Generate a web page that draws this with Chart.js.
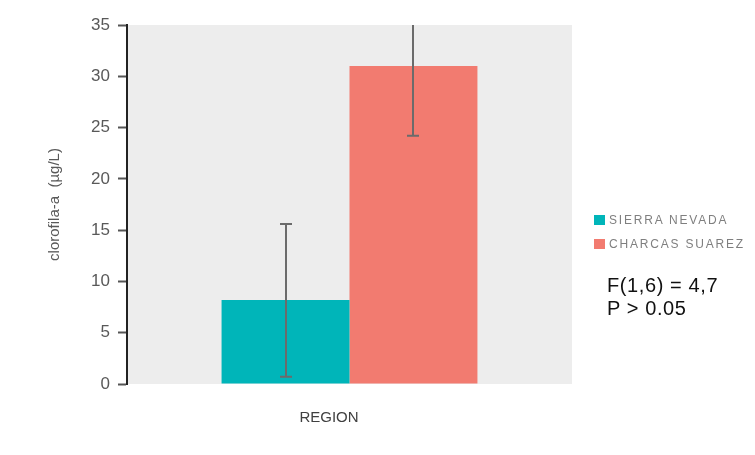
<!DOCTYPE html>
<html>
<head>
<meta charset="utf-8">
<script src="https://cdn.jsdelivr.net/npm/chart.js@4"></script>
<style>
  body { margin: 0; background: #fff; }
  #wrap { position: relative; width: 755px; height: 455px; }
  #legend { position: absolute; left: 594px; top: 211px; font-family: "Liberation Sans", Arial, sans-serif; font-size: 12px; color: #7f7f7f; letter-spacing: 1.8px; }
  #legend div { height: 24px; line-height: 18px; white-space: nowrap; }
  #legend span.box { display: inline-block; width: 11px; height: 10px; margin-right: 4px; vertical-align: -1px; }
  #stats { position: absolute; left: 607px; top: 274px; font-family: "Liberation Sans", Arial, sans-serif; font-size: 20px; letter-spacing: 0.6px; line-height: 23px; color: #111; }
</style>
</head>
<body>
<div id="wrap">
  <canvas id="chart" width="755" height="455"></canvas>
  <div id="legend"></div>
  <div id="stats">F(1,6) = 4,7<br>P &gt; 0.05</div>
</div>
<script>
const categories = ['REGION'];
const seriesNames = ['SIERRA NEVADA', 'CHARCAS SUAREZ'];
const means = [8.2, 31.0];
const errLow = [0.7, 24.2];   // lower end of error bar
const errHigh = [15.6, 37.8]; // upper end of error bar (second one runs off the top)
const colors = ['#00b5b9', '#f27b70'];
const yTicks = [0, 5, 10, 15, 20, 25, 30, 35];

// grey plot background
const plotBg = {
  id: 'plotBg',
  beforeDraw(chart) {
    const a = chart.chartArea, c = chart.ctx;
    c.save();
    c.fillStyle = '#ededed';
    c.fillRect(a.left, a.top, a.right - a.left, a.bottom - a.top);
    c.restore();
  }
};

// error bars, clipped to the plot
const errorBars = {
  id: 'errorBars',
  afterDatasetsDraw(chart) {
    const c = chart.ctx, y = chart.scales.y, a = chart.chartArea;
    c.save();
    c.beginPath();
    c.rect(a.left, a.top, a.right - a.left, a.bottom - a.top);
    c.clip();
    c.strokeStyle = '#6b6b6b';
    c.lineWidth = 2;
    chart.data.datasets.forEach((ds, i) => {
      const bar = chart.getDatasetMeta(i).data[0];
      const x = Math.round(bar.x);
      const top = y.getPixelForValue(errHigh[i]);
      const bot = y.getPixelForValue(errLow[i]);
      c.beginPath();
      c.moveTo(x, top); c.lineTo(x, bot);
      c.moveTo(x - 6, top); c.lineTo(x + 6, top);
      c.moveTo(x - 6, bot); c.lineTo(x + 6, bot);
      c.stroke();
    });
    c.restore();
  }
};

// x axis title, sits a bit left of the plot centre like the original
const xTitle = {
  id: 'xTitle',
  afterDraw(chart) {
    const c = chart.ctx;
    c.save();
    c.font = '15px "Liberation Sans", Arial, sans-serif';
    c.fillStyle = '#404040';
    c.textAlign = 'center';
    c.textBaseline = 'middle';
    c.fillText(categories[0], 329, 418);
    c.restore();
  }
};

new Chart(document.getElementById('chart').getContext('2d'), {
  type: 'bar',
  data: {
    labels: categories,
    datasets: seriesNames.map((name, i) => ({
      label: name,
      data: [means[i]],
      backgroundColor: colors[i],
      borderWidth: 0,
      barPercentage: 1,
      categoryPercentage: 0.575
    }))
  },
  options: {
    responsive: false,
    animation: false,
    layout: { padding: { top: 25, right: 183, left: 0, bottom: 0 } },
    plugins: { legend: { display: false }, tooltip: { enabled: false } },
    scales: {
      x: {
        grid: { display: false },
        border: { display: false },
        ticks: { display: false },
        afterFit(s) { s.height = 71; }
      },
      y: {
        min: 0, max: 35,
        afterBuildTicks(s) { s.ticks = yTicks.map(v => ({ value: v })); },
        grid: { drawOnChartArea: false, tickLength: 9, tickWidth: 2, tickColor: '#555' },
        border: { color: '#222', width: 2 },
        ticks: { padding: 8, color: '#595959', font: { family: '"Liberation Sans", Arial, sans-serif', size: 17 } },
        title: { display: true, text: 'clorofila-a  (µg/L)', color: '#595959', font: { family: '"Liberation Sans", Arial, sans-serif', size: 15 }, padding: { top: 46, bottom: 0 } },
        afterFit(s) { s.width = 127; }
      }
    }
  },
  plugins: [plotBg, errorBars, xTitle]
});

// html legend built from the series arrays
document.getElementById('legend').innerHTML = seriesNames.map((n, i) =>
  '<div><span class="box" style="background:' + colors[i] + '"></span>' + n + '</div>').join('');
</script>
</body>
</html>
